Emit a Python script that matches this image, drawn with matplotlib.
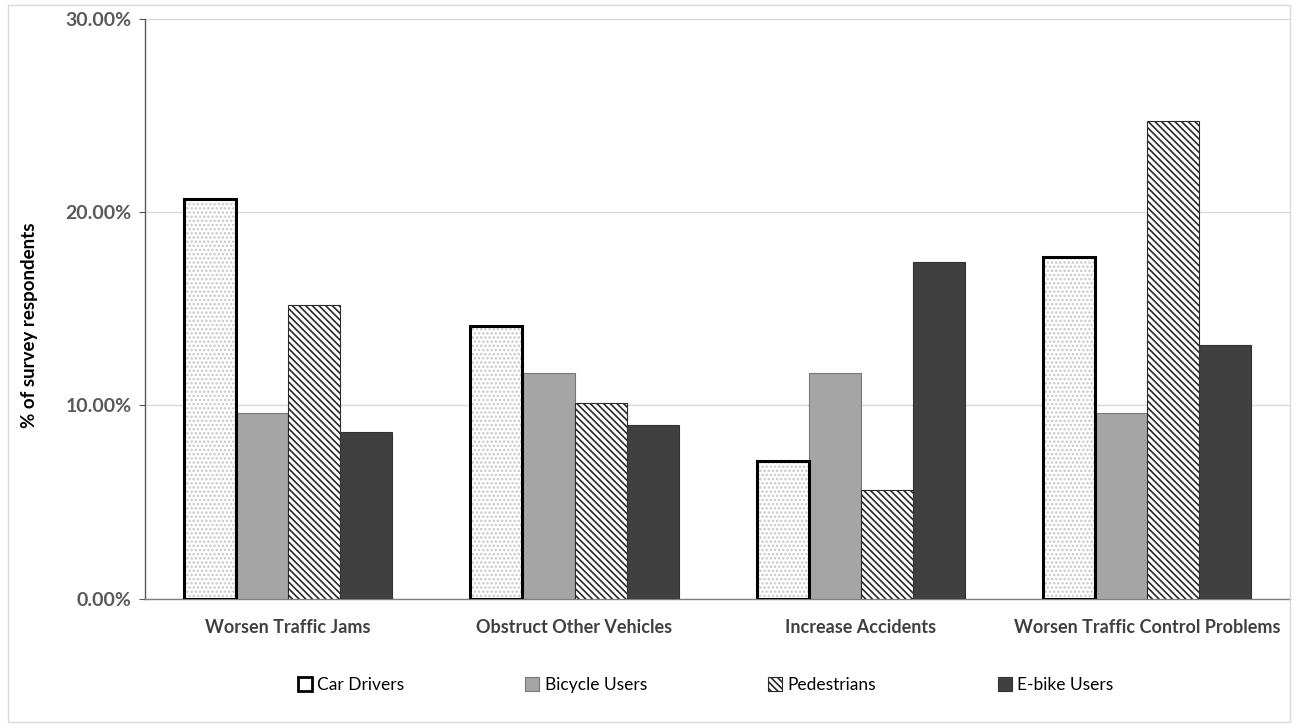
import matplotlib.pyplot as plt
import numpy as np
from matplotlib.patches import Patch, Rectangle
from matplotlib.ticker import FuncFormatter

categories = ['Worsen Traffic Jams', 'Obstruct Other Vehicles',
              'Increase Accidents', 'Worsen Traffic Control Problems']
car_drivers = [20.7, 14.1, 7.1, 17.7]
bicycle_users = [9.6, 11.7, 11.7, 9.6]
pedestrians = [15.2, 10.1, 5.6, 24.7]
ebike_users = [8.6, 9.0, 17.4, 13.1]
y_ticks = [0, 10, 20, 30]

plt.rcParams['font.family'] = ['Lato', 'DejaVu Sans']
plt.rcParams['hatch.linewidth'] = 1.2

fig = plt.figure(figsize=(12.99, 7.24), dpi=100)
ax = fig.add_axes([0.1116, 0.1733, 0.8818, 0.8005])

x = np.arange(len(categories))
w = 0.182
ped_hatch = '\\' * 5

# car drivers: dotted fill plus a heavy black outline
ax.bar(x - 1.5 * w, car_drivers, w, color='white', edgecolor='#c8c8c8',
       hatch='....', linewidth=0, zorder=3)
ax.bar(x - 1.5 * w, car_drivers, w, color='none', edgecolor='black',
       linewidth=2.2, zorder=4)
ax.bar(x - 0.5 * w, bicycle_users, w, color='#a5a5a5', edgecolor='#777777',
       linewidth=0.8, zorder=3)
ax.bar(x + 0.5 * w, pedestrians, w, color='white', edgecolor='#2a2a2a',
       hatch=ped_hatch, linewidth=0.8, zorder=3)
ax.bar(x + 1.5 * w, ebike_users, w, color='#404040', edgecolor='#333333',
       linewidth=0.8, zorder=3)

ax.set_xlim(-0.5, 3.5)
ax.set_ylim(0, 30)
ax.set_yticks(y_ticks)
ax.yaxis.set_major_formatter(FuncFormatter(lambda v, p: f'{v:.2f}%'))
ax.grid(axis='y', color='#d9d9d9', linewidth=1, zorder=0)
ax.set_axisbelow(True)

for s in ['top', 'right']:
    ax.spines[s].set_visible(False)
ax.spines['left'].set_color('#595959')
ax.spines['bottom'].set_color('#7f7f7f')
ax.spines['left'].set_linewidth(1.0)
ax.spines['bottom'].set_linewidth(1.0)

ax.tick_params(axis='y', direction='out', length=4.5, color='#595959',
               labelsize=14, labelcolor='#595959', pad=5)
ax.tick_params(axis='x', length=0, labelsize=13, labelcolor='#404040', pad=15)
ax.set_xticks(x)
ax.set_xticklabels(categories, fontweight='bold')
for lab in ax.get_yticklabels():
    lab.set_fontweight('bold')

ax.set_ylabel('% of survey respondents', fontsize=13.5, fontweight='bold',
              color='black')
ax.yaxis.set_label_coords(-0.0934, 0.472)

handles = [
    Patch(facecolor='white', edgecolor='black', linewidth=2.0),
    Patch(facecolor='#a5a5a5', edgecolor='#777777', linewidth=0.8),
    Patch(facecolor='white', edgecolor='#2a2a2a', hatch=ped_hatch, linewidth=0.8),
    Patch(facecolor='#404040', edgecolor='#333333', linewidth=0.8),
]
labels = ['Car Drivers', 'Bicycle Users', 'Pedestrians', 'E-bike Users']
fig.legend(handles, labels, loc='center', bbox_to_anchor=(0.543, 0.054),
           ncol=4, frameon=False, fontsize=12.5, handlelength=0.8,
           handleheight=0.8, handletextpad=0.3, columnspacing=7.0)

# thin outer frame around the whole chart
fig.patches.append(Rectangle((0.006, 0.003), 0.987, 0.99, transform=fig.transFigure,
                             fill=False, edgecolor='#d9d9d9', linewidth=1.0))

fig.savefig('out.png', dpi=100)
